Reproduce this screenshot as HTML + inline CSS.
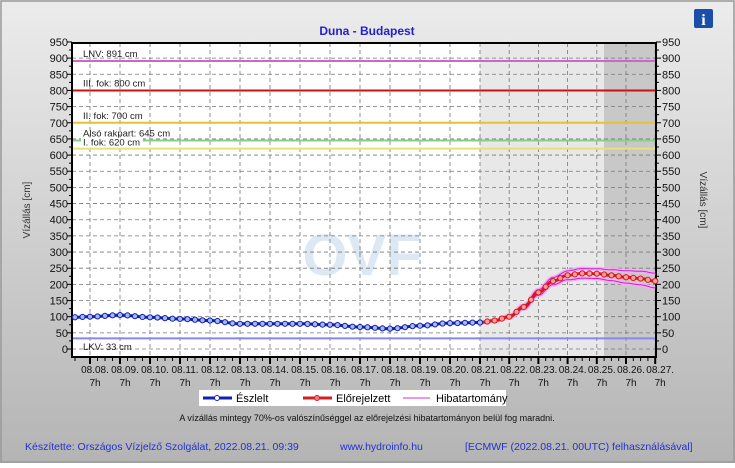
<!DOCTYPE html>
<html><head><meta charset="utf-8"><style>
body{margin:0;width:735px;height:463px;overflow:hidden;font-family:"Liberation Sans",sans-serif}
</style></head><body>
<svg id="s" width="735" height="463" xmlns="http://www.w3.org/2000/svg" font-family="Liberation Sans, sans-serif">
<defs><linearGradient id="bg" x1="0" y1="0" x2="0" y2="1"><stop offset="0" stop-color="#ececec"/><stop offset="1" stop-color="#b4b4b4"/></linearGradient></defs>
<rect x="0" y="0" width="735" height="463" fill="url(#bg)"/>
<rect x="1" y="1" width="733" height="461" fill="none" stroke="#999" stroke-width="1.5"/>
<text x="367" y="35" text-anchor="middle" font-size="12" font-weight="bold" fill="#2222cc">Duna - Budapest</text>
<rect x="694" y="9" width="19" height="19" fill="#1a4fa8" rx="2"/>
<text x="703.5" y="25" text-anchor="middle" font-size="16" font-weight="bold" fill="#fff" font-family="Liberation Serif, serif">i</text>
<rect x="72" y="43" width="584" height="314" fill="#fff"/>
<rect x="480" y="43" width="124" height="314" fill="#e8e8e8"/>
<rect x="604" y="43" width="52" height="314" fill="#c8c8c8"/>
<text x="362" y="275" text-anchor="middle" font-size="58" font-weight="bold" fill="#dce8f4">OVF</text>
<g id="g"></g>
<text x="20" y="200" transform="rotate(-90 30 200)" font-size="10" fill="#333" text-anchor="middle">Vízállás [cm]</text>
<text x="700" y="200" transform="rotate(90 700 200)" font-size="10" fill="#333" text-anchor="middle">Vízállás [cm]</text>
<rect x="199" y="390" width="307" height="16" fill="#fff"/>
<line x1="203" y1="398" x2="232" y2="398" stroke="#1020b0" stroke-width="3"/><circle cx="217" cy="398" r="2.5" fill="#fff" stroke="#1020b0"/>
<text x="236" y="402" font-size="11" fill="#000">Észlelt</text>
<line x1="303" y1="398" x2="332" y2="398" stroke="#d02020" stroke-width="3"/><circle cx="317" cy="398" r="2.5" fill="#f08080" stroke="#d02020"/>
<text x="336" y="402" font-size="11" fill="#000">Előrejelzett</text>
<line x1="403" y1="398" x2="430" y2="398" stroke="#cc33cc" stroke-width="1"/>
<text x="436" y="402" font-size="11" fill="#000">Hibatartomány</text>
<text x="367" y="421" text-anchor="middle" font-size="9" fill="#111">A vízállás mintegy 70%-os valószínűséggel az előrejelzési hibatartományon belül fog maradni.</text>
<text x="25" y="450" font-size="10.5" fill="#2233cc">Készítette: Országos Vízjelző Szolgálat, 2022.08.21. 09:39</text>
<text x="340" y="450" font-size="10.5" fill="#2233cc">www.hydroinfo.hu</text>
<text x="465" y="450" font-size="10.5" fill="#2233cc">[ECMWF (2022.08.21. 00UTC) felhasználásával]</text>
</svg>
<script>
var NS="http://www.w3.org/2000/svg",g=document.getElementById('g');
function el(t,a,txt){var e=document.createElementNS(NS,t);for(var k in a)e.setAttribute(k,a[k]);if(txt!=null)e.textContent=txt;g.appendChild(e);return e;}
function Y(v){return 349-v*0.3232;}
function X(d){return d<=13?90+d*30:480+(d-13)*29.2;}
// grid
for(var v=0;v<=950;v+=50){if(v<950)el('line',{x1:72,x2:656,y1:Y(v),y2:Y(v),stroke:'#777','stroke-dasharray':'4,3','stroke-width':0.8});
el('text',{x:68,y:Y(v)+4,'text-anchor':'end','font-size':11,fill:'#111'},v);el('text',{x:662,y:Y(v)+4,'font-size':11,fill:'#111'},v);
el('line',{x1:67,x2:72,y1:Y(v),y2:Y(v),stroke:'#000'});el('line',{x1:656,x2:661,y1:Y(v),y2:Y(v),stroke:'#000'});
if(v<950){el('line',{x1:69,x2:72,y1:Y(v+25),y2:Y(v+25),stroke:'#000'});el('line',{x1:656,x2:659,y1:Y(v+25),y2:Y(v+25),stroke:'#000'});}}
for(var d=0;d<=19;d++){var x=X(d);el('line',{x1:x,x2:x,y1:43,y2:357,stroke:'#777','stroke-dasharray':'4,3','stroke-width':0.8});
el('line',{x1:x,x2:x,y1:357,y2:364,stroke:'#000','stroke-width':2});
for(var q=1;q<4&&d<19;q++){var xx=X(d+q/4);el('line',{x1:xx,x2:xx,y1:357,y2:361,stroke:'#000'});}
var day=8+d;el('text',{x:x+5,y:373,'text-anchor':'middle','font-size':10,fill:'#111'},'08.'+(day<10?'0'+day:day)+'.');
el('text',{x:x+5,y:386,'text-anchor':'middle','font-size':10,fill:'#111'},'7h');}
for(var xx=X(-0.5);xx>72;xx-=7.5){el('line',{x1:xx,x2:xx,y1:357,y2:361,stroke:'#000'});}
// thresholds
[[891,'#cc66cc','LNV: 891 cm'],[800,'#cc1111','III. fok: 800 cm'],[700,'#e8c030','II. fok: 700 cm'],[645,'#88d088','Alsó rakpart: 645 cm'],[620,'#e8e070','I. fok: 620 cm'],[33,'#8888ee','LKV: 33 cm']].forEach(function(t){
el('line',{x1:72,x2:656,y1:Y(t[0]),y2:Y(t[0]),stroke:t[1],'stroke-width':2});});
[[891,'LNV: 891 cm',-4],[800,'III. fok: 800 cm',-4],[700,'II. fok: 700 cm',-4],[645,'Alsó rakpart: 645 cm',-4],[620,'I. fok: 620 cm',-3],[33,'LKV: 33 cm',-8]].forEach(function(t){
var yy=Y(t[0])+t[2];if(t[0]==33)yy=Y(0)+1;if(t[0]==620){el('rect',{x:81,y:Y(620)-11,width:62,height:10,fill:'#fff'});}
el('text',{x:83,y:yy,'font-size':9.5,fill:'#222'},t[1]);});
el('rect',{x:72,y:43,width:584,height:314,fill:'none',stroke:'#000','stroke-width':2});
// data
function interp(k,d){for(var i=0;i<k.length-1;i++){if(d>=k[i][0]&&d<=k[i+1][0]){var f=(d-k[i][0])/(k[i+1][0]-k[i][0]);f=(1-Math.cos(Math.PI*f))/2;return k[i][1]+(k[i+1][1]-k[i][1])*f;}}return k[k.length-1][1];}
var ob=[[-0.6,98],[0,100],[1,105],[2,98],[3,93],[4,88],[5,78],[6,78],[7,78],[8,75],[9,68],[10,63],[11,72],[12,80],[13,82]];
var fc=[[13,82],[13.5,88],[14,100],[14.5,130],[15,175],[15.5,210],[16,228],[16.5,234],[17,233],[17.5,228],[18,222],[18.5,218],[19,210]];
function band(s){return function(d){var w=d<13.5?0:Math.min(1,(d-13.5)/3)*s(d);return w;};}
var up=[],lo=[],fp=[],op=[];
for(var d=-0.6;d<=13.001;d+=0.05)op.push(X(d).toFixed(1)+','+Y(interp(ob,d)).toFixed(1));
for(var d=13;d<=19.001;d+=0.05){var v=interp(fc,d);var w=d<13.3?0:Math.min(1,(d-13.3)/3);var u=v+w*(15+(d>17?(d-17)*5:0)),l=v-w*(15+(d>17?(d-17)*3:0));
fp.push(X(d).toFixed(1)+','+Y(v).toFixed(1));up.push(X(d).toFixed(1)+','+Y(u).toFixed(1));lo.push(X(d).toFixed(1)+','+Y(l).toFixed(1));}
el('polyline',{points:up.join(' '),fill:'none',stroke:'#f0b0f0','stroke-width':4});
el('polyline',{points:lo.join(' '),fill:'none',stroke:'#f0b0f0','stroke-width':4});
el('polyline',{points:up.join(' '),fill:'none',stroke:'#cc22cc','stroke-width':1});
el('polyline',{points:lo.join(' '),fill:'none',stroke:'#cc22cc','stroke-width':1});
el('polyline',{points:op.join(' '),fill:'none',stroke:'#1020b0','stroke-width':3});
el('polyline',{points:fp.join(' '),fill:'none',stroke:'#d81818','stroke-width':3});
for(var d=-0.5;d<=13.001;d+=0.25)el('circle',{cx:X(d),cy:Y(interp(ob,d)),r:2.6,fill:'#a8b8f0',stroke:'#1020b0','stroke-width':1});
for(var d=13.25;d<=19.001;d+=0.25)el('circle',{cx:X(d),cy:Y(interp(fc,d)),r:2.6,fill:'#f8a0a0',stroke:'#d81818','stroke-width':1});
</script>
</body></html>
